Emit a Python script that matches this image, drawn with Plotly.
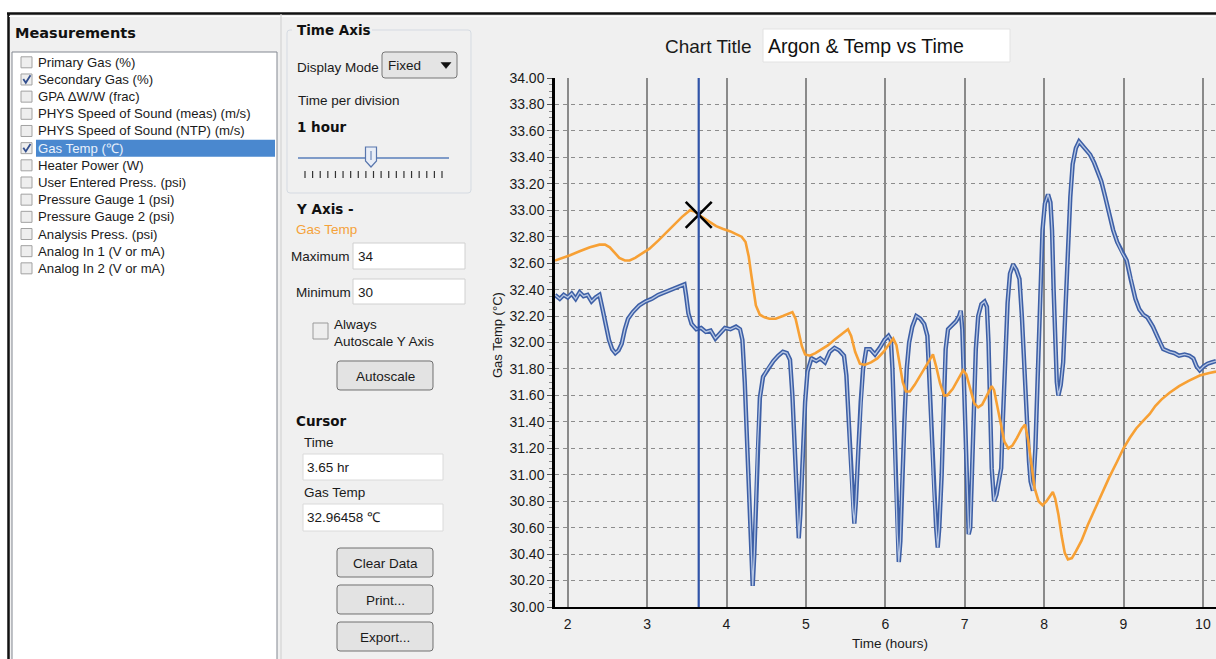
import plotly.graph_objects as go

# ---------------- data ----------------
time_gas = [1.84, 1.95, 2.03, 2.15, 2.28, 2.40, 2.47, 2.53, 2.59, 2.65, 2.72, 2.78, 2.85, 2.95,
            3.03, 3.14, 3.24, 3.34, 3.44, 3.54, 3.60, 3.65, 3.72, 3.79, 3.87, 3.95, 4.05, 4.12,
            4.19, 4.24, 4.28, 4.31, 4.34, 4.37, 4.42, 4.48, 4.54, 4.62, 4.71, 4.78, 4.83, 4.87,
            4.91, 4.95, 4.99, 5.05, 5.12, 5.20, 5.28, 5.36, 5.45, 5.53, 5.57, 5.62, 5.68, 5.74,
            5.82, 5.90, 5.98, 6.05, 6.10, 6.14, 6.18, 6.22, 6.26, 6.31, 6.37, 6.43, 6.50, 6.56,
            6.60, 6.64, 6.69, 6.74, 6.78, 6.85, 6.92, 6.98, 7.02, 7.07, 7.12, 7.17, 7.22, 7.28,
            7.34, 7.37, 7.41, 7.46, 7.50, 7.55, 7.60, 7.66, 7.72, 7.76, 7.80, 7.84, 7.88, 7.93,
            7.98, 8.03, 8.08, 8.11, 8.14, 8.18, 8.22, 8.26, 8.30, 8.35, 8.40, 8.47, 8.55, 8.63,
            8.72, 8.82, 8.92, 9.00, 9.08, 9.16, 9.25, 9.33, 9.40, 9.48, 9.58, 9.70, 9.82, 9.96,
            10.08, 10.165]
gas_temp = [32.62, 32.64, 32.66, 32.69, 32.72, 32.74, 32.74, 32.72, 32.68, 32.64, 32.62, 32.62, 32.64, 32.68,
            32.71, 32.77, 32.83, 32.89, 32.95, 33.00, 32.99, 32.965, 32.94, 32.91, 32.88, 32.86, 32.84, 32.82,
            32.80, 32.76, 32.65, 32.52, 32.38, 32.28, 32.21, 32.19, 32.18, 32.18, 32.20, 32.22, 32.23, 32.18,
            32.08, 31.97, 31.91, 31.90, 31.92, 31.95, 31.98, 32.02, 32.06, 32.10, 32.05, 31.93, 31.84, 31.83,
            31.85, 31.88, 31.93, 31.99, 32.03, 31.98, 31.85, 31.70, 31.63, 31.63, 31.68, 31.74, 31.81, 31.88,
            31.91, 31.82, 31.69, 31.60, 31.60, 31.65, 31.73, 31.79, 31.76, 31.65, 31.54, 31.51, 31.53, 31.60,
            31.67, 31.64, 31.52, 31.36, 31.25, 31.20, 31.22, 31.28, 31.35, 31.38, 31.26, 31.08, 30.90, 30.80,
            30.77, 30.80, 30.85, 30.87, 30.82, 30.70, 30.54, 30.41, 30.36, 30.37, 30.42, 30.50, 30.62, 30.73,
            30.85, 30.98, 31.10, 31.20, 31.28, 31.35, 31.41, 31.46, 31.52, 31.57, 31.62, 31.67, 31.71, 31.75,
            31.77, 31.78]

time_sec = [1.84, 1.90, 1.95, 2.00, 2.05, 2.10, 2.15, 2.20, 2.25, 2.30, 2.35, 2.40, 2.44, 2.48, 2.52,
            2.56, 2.60, 2.64, 2.68, 2.72, 2.76, 2.82, 2.90, 2.98, 3.06, 3.14, 3.22, 3.30, 3.38, 3.44,
            3.47, 3.49, 3.52, 3.56, 3.62, 3.68, 3.74, 3.80, 3.86, 3.92, 3.98, 4.05, 4.12, 4.17, 4.20,
            4.23, 4.26, 4.29, 4.31, 4.33, 4.35, 4.37, 4.39, 4.42, 4.46, 4.52, 4.59, 4.65, 4.71, 4.76,
            4.80, 4.83, 4.86, 4.89, 4.91, 4.93, 4.96, 4.99, 5.02, 5.07, 5.13, 5.18, 5.24, 5.30, 5.36,
            5.42, 5.48, 5.51, 5.54, 5.57, 5.59, 5.61, 5.63, 5.66, 5.69, 5.72, 5.76, 5.81, 5.87, 5.93,
            5.99, 6.04, 6.07, 6.09, 6.11, 6.13, 6.15, 6.17, 6.19, 6.21, 6.24, 6.27, 6.30, 6.34, 6.39,
            6.44, 6.49, 6.53, 6.55, 6.58, 6.61, 6.64, 6.66, 6.68, 6.71, 6.73, 6.76, 6.79, 6.84, 6.89,
            6.93, 6.95, 6.97, 6.99, 7.01, 7.03, 7.05, 7.07, 7.09, 7.11, 7.14, 7.17, 7.21, 7.25, 7.28,
            7.30, 7.32, 7.34, 7.37, 7.40, 7.43, 7.46, 7.48, 7.51, 7.54, 7.57, 7.61, 7.65, 7.69, 7.72,
            7.75, 7.78, 7.81, 7.83, 7.86, 7.89, 7.92, 7.95, 7.98, 8.01, 8.05, 8.08, 8.10, 8.12, 8.14,
            8.16, 8.18, 8.21, 8.24, 8.27, 8.30, 8.33, 8.36, 8.40, 8.44, 8.48, 8.53, 8.58, 8.63, 8.68,
            8.72, 8.77, 8.82, 8.87, 8.92, 8.98, 9.04, 9.09, 9.15, 9.20, 9.25, 9.30, 9.37, 9.43, 9.50,
            9.58, 9.64, 9.70, 9.77, 9.83, 9.88, 9.92, 9.96, 10.01, 10.06, 10.11, 10.165]
secondary_gas = [32.36, 32.33, 32.36, 32.34, 32.37, 32.33, 32.38, 32.35, 32.36, 32.31, 32.34, 32.36, 32.25, 32.12, 32.02,
                 31.95, 31.92, 31.94, 31.99, 32.10, 32.18, 32.23, 32.28, 32.31, 32.33, 32.36, 32.38, 32.40, 32.42, 32.43,
                 32.44, 32.36, 32.22, 32.14, 32.10, 32.11, 32.08, 32.09, 32.03, 32.07, 32.11, 32.10, 32.12, 32.10, 32.02,
                 31.70, 31.20, 30.70, 30.40, 30.16, 30.40, 30.80, 31.20, 31.58, 31.74, 31.80, 31.86, 31.90, 31.93, 31.92,
                 31.87, 31.60, 31.20, 30.80, 30.52, 30.70, 31.15, 31.55, 31.78, 31.88, 31.86, 31.88, 31.85, 31.93, 31.96,
                 31.94, 31.90, 31.75, 31.40, 31.00, 30.75, 30.63, 30.80, 31.20, 31.55, 31.80, 31.95, 31.95, 31.91, 31.96,
                 32.02, 32.05, 32.02, 31.80, 31.40, 30.95, 30.55, 30.34, 30.50, 30.90, 31.40, 31.80, 32.00, 32.12, 32.20,
                 32.18, 32.14, 32.05, 31.80, 31.30, 30.90, 30.60, 30.45, 30.60, 31.00, 31.50, 31.95, 32.10, 32.13, 32.16,
                 32.20, 32.24, 32.10, 31.70, 31.20, 30.80, 30.55, 30.60, 31.00, 31.50, 31.95, 32.20, 32.29, 32.31, 32.27,
                 32.00, 31.50, 31.05, 30.80, 30.85, 30.95, 31.05, 31.40, 31.90, 32.30, 32.52, 32.59, 32.55, 32.48, 32.20,
                 31.80, 31.40, 31.10, 30.95, 30.88, 31.20, 31.80, 32.40, 32.85, 33.05, 33.12, 33.06, 32.85, 32.40, 31.95,
                 31.70, 31.60, 31.68, 31.85, 32.30, 32.70, 33.10, 33.35, 33.47, 33.52, 33.49, 33.46, 33.42, 33.36, 33.29,
                 33.22, 33.10, 32.97, 32.85, 32.76, 32.68, 32.62, 32.48, 32.33, 32.25, 32.21, 32.19, 32.12, 32.04, 31.95,
                 31.93, 31.92, 31.90, 31.91, 31.90, 31.88, 31.82, 31.79, 31.82, 31.84, 31.85, 31.86]

cursor_time = 3.65
cursor_value = 32.96458
x_ticks = [2, 3, 4, 5, 6, 7, 8, 9, 10]
x_range = [1.84, 10.165]
y_range = [30, 34]

measurements = ["Primary Gas (%)", "Secondary Gas (%)", "GPA \u0394W/W (frac)",
                "PHYS Speed of Sound (meas) (m/s)", "PHYS Speed of Sound (NTP) (m/s)",
                "Gas Temp (\u2103)", "Heater Power (W)", "User Entered Press. (psi)",
                "Pressure Gauge 1 (psi)", "Pressure Gauge 2 (psi)", "Analysis Press. (psi)",
                "Analog In 1 (V or mA)", "Analog In 2 (V or mA)"]
checked = [False, True, False, False, False, True, False, False, False, False, False, False, False]
selected_index = 5

# ---------------- geometry helpers (pixel -> paper) ----------------
L, T, R, B = 555, 78, 1216, 607
PW, PH = R - L, B - T


def px(x):
    return (x - L) / PW


def py(y):
    return (B - y) / PH


shapes = []
annotations = []


def rect(x0, y0, x1, y1, fill, line="rgba(0,0,0,0)", lw=1):
    shapes.append(dict(type="rect", xref="paper", yref="paper",
                       x0=px(x0), x1=px(x1), y0=py(y1), y1=py(y0),
                       fillcolor=fill, line=dict(color=line, width=lw), layer="above"))


def line(x0, y0, x1, y1, color, lw=1, dash="solid"):
    shapes.append(dict(type="line", xref="paper", yref="paper",
                       x0=px(x0), x1=px(x1), y0=py(y0), y1=py(y1),
                       line=dict(color=color, width=lw, dash=dash), layer="above"))


def poly(points, fill="rgba(0,0,0,0)", color="#000", lw=1, close=True):
    d = "M " + " L ".join(f"{px(a):.5f},{py(b):.5f}" for a, b in points)
    if close:
        d += " Z"
    shapes.append(dict(type="path", xref="paper", yref="paper", path=d,
                       fillcolor=fill, line=dict(color=color, width=lw), layer="above"))


def rrect(x0, y0, x1, y1, r, fill, color, lw=1):
    d = (f"M {px(x0 + r):.5f},{py(y0):.5f} L {px(x1 - r):.5f},{py(y0):.5f} "
         f"Q {px(x1):.5f},{py(y0):.5f} {px(x1):.5f},{py(y0 + r):.5f} "
         f"L {px(x1):.5f},{py(y1 - r):.5f} "
         f"Q {px(x1):.5f},{py(y1):.5f} {px(x1 - r):.5f},{py(y1):.5f} "
         f"L {px(x0 + r):.5f},{py(y1):.5f} "
         f"Q {px(x0):.5f},{py(y1):.5f} {px(x0):.5f},{py(y1 - r):.5f} "
         f"L {px(x0):.5f},{py(y0 + r):.5f} "
         f"Q {px(x0):.5f},{py(y0):.5f} {px(x0 + r):.5f},{py(y0):.5f} Z")
    shapes.append(dict(type="path", xref="paper", yref="paper", path=d,
                       fillcolor=fill, line=dict(color=color, width=lw), layer="above"))


REG = "Liberation Sans"
BOLD = "DejaVu Sans"


def text(x, y, s, size=13.5, color="#1a1a1a", family=REG, anchor="left", bold=False, angle=0):
    if bold:
        s = "<b>" + s + "</b>"
    annotations.append(dict(xref="paper", yref="paper", x=px(x), y=py(y), text=s,
                            showarrow=False, xanchor=anchor, yanchor="middle",
                            font=dict(family=family, size=size, color=color),
                            textangle=angle, borderpad=0))


# ---------------- window frame ----------------
rect(0, 0, 1216, 13, "#ffffff")
rect(0, 0, 8, 659, "#ffffff")
line(7, 13.5, 1216, 13.5, "#111111", 2.5)
line(8.5, 13, 8.5, 659, "#111111", 2.5)
line(9, 16.5, 1216, 16.5, "#ffffff", 1)

# ---------------- left panel: measurements ----------------
text(14, 33, "Measurements", size=14.5, family=BOLD, bold=True, color="#111111")
rect(12, 52, 277, 662, "#ffffff", "#828790", 1)
line(281, 14, 281, 659, "#d4d4d4", 1.2)
y0_list, dy_list = 62.3, 17.17
for i, name in enumerate(measurements):
    yc = y0_list + i * dy_list
    if i == selected_index:
        rect(36, yc - 8.5, 275, yc + 8.5, "#4a88cf")
        col = "#e8f0fb"
    else:
        col = "#1a1a1a"
    rect(21, yc - 5.5, 32, yc + 5.5, "#eeeeee", "#a2a2a2", 1)
    if checked[i]:
        poly([(23.3, yc - 0.5), (25.8, yc + 3.3), (30.5, yc - 4.2)], color="#34508f", lw=1.8, close=False)
    text(37, yc, name, size=13.2, color=col)

# ---------------- middle panel ----------------
rrect(287, 30, 471, 193, 3, "rgba(0,0,0,0)", "#d5dbe2", 1)
rect(292, 22, 372, 38, "#f0f0f0")
text(296, 30, "Time Axis", size=13.5, family=BOLD, bold=True, color="#111111")
text(296, 67, "Display Mode", size=13.5)
rrect(382, 52, 457, 78, 3, "#e4e4e4", "#767676", 1)
text(387, 65, "Fixed", size=13.5)
poly([(441, 62.5), (451, 62.5), (446, 68.5)], fill="#111111", color="#111111", lw=0.5)
text(297, 101, "Time per division", size=13.5)
text(296, 127, "1 hour", size=13.5, family=BOLD, bold=True, color="#111111")
line(298, 158, 449, 158, "#7f9bc8", 2)
n_ticks = 19
for k in range(n_ticks):
    xt = 305 + k * (442 - 305) / (n_ticks - 1)
    line(xt, 171, xt, 178, "#333333", 1.2)
poly([(365.5, 147), (376.5, 147), (376.5, 161), (371, 167), (365.5, 161)], fill="#e9eef7", color="#5876ad", lw=1.2)
line(371, 151, 371, 160, "#5876ad", 1)

text(295, 209, "Y Axis -", size=13.5, family=BOLD, bold=True, color="#111111")
text(295, 230, "Gas Temp", size=13.5, color="#f5a23a")
text(290, 256, "Maximum", size=13.5)
rect(353, 243, 465, 269, "#ffffff", "#d0d0d0", 1)
text(357, 256, "34", size=13.5)
text(295, 292, "Minimum", size=13.5)
rect(353, 279, 465, 304, "#ffffff", "#d0d0d0", 1)
text(357, 292, "30", size=13.5)
rect(313, 323, 328, 339, "#eeeeee", "#9a9a9a", 1)
text(333, 324, "Always", size=13.5)
text(333, 341, "Autoscale Y Axis", size=13.5)
rrect(337, 361, 433, 390, 3, "#e3e3e3", "#707070", 1)
text(385, 376, "Autoscale", size=13.5, anchor="center")

text(295, 421, "Cursor", size=13.5, family=BOLD, bold=True, color="#111111")
text(303, 442, "Time", size=13.5)
rect(303, 454, 443, 480, "#ffffff", "#dadada", 1)
text(306, 467, "3.65 hr", size=13.5)
text(303, 493, "Gas Temp", size=13.5)
rect(303, 504, 443, 531, "#ffffff", "#dadada", 1)
text(306, 517, f"{cursor_value:.5f} \u2103", size=13.5)
for (yb0, label) in [(548, "Clear Data"), (585, "Print..."), (622, "Export...")]:
    rrect(337, yb0, 433, yb0 + 29, 3, "#e3e3e3", "#707070", 1)
    text(385, yb0 + 15, label, size=13.5, anchor="center")

# ---------------- chart header ----------------
text(664, 46, "Chart Title", size=19, color="#1a1a1a")
rect(763, 29, 1010, 62, "#ffffff", "#e2e2e2", 1)
text(767, 46, "Argon &amp; Temp vs Time", size=19.5, color="#111111")

# axis titles
text(890, 643, "Time (hours)", size=13.5, anchor="center")
text(497, 335, "Gas Temp (\u00b0C)", size=13, anchor="center", angle=-90)

# cursor line (data coords)
shapes.append(dict(type="line", xref="x", yref="y", x0=cursor_time, x1=cursor_time,
                   y0=y_range[0], y1=y_range[1], line=dict(color="#3054a8", width=2.2), layer="above"))

# ---------------- traces ----------------
fig = go.Figure()
fig.add_trace(go.Scatter(x=time_sec, y=secondary_gas, mode="lines",
                         line=dict(color="#3d5fa6", width=4.4), hoverinfo="skip", showlegend=False))
fig.add_trace(go.Scatter(x=time_sec, y=secondary_gas, mode="lines",
                         line=dict(color="#b7c7e4", width=1.3), hoverinfo="skip", showlegend=False))
fig.add_trace(go.Scatter(x=time_gas, y=gas_temp, mode="lines",
                         line=dict(color="#f7a034", width=2.6), hoverinfo="skip", showlegend=False))
fig.add_trace(go.Scatter(x=[cursor_time], y=[cursor_value], mode="markers",
                         marker=dict(symbol="x-thin", size=26, line=dict(color="#000000", width=2.6)),
                         hoverinfo="skip", showlegend=False))

fig.update_layout(
    width=1216, height=659, autosize=False,
    margin=dict(l=L, r=1216 - R, t=T, b=659 - B, pad=0),
    paper_bgcolor="#f0f0f0", plot_bgcolor="#f0f0f0",
    shapes=shapes, annotations=annotations,
    xaxis=dict(range=x_range, tickvals=x_ticks, showgrid=True, gridcolor="#8a8a8a", gridwidth=1.5,
               showline=True, linecolor="#000000", linewidth=2, ticks="", zeroline=False,
               tickfont=dict(family=REG, size=14, color="#1a1a1a"), ticklabelstandoff=3,
               fixedrange=True),
    yaxis=dict(range=y_range, dtick=0.2, tick0=30, tickformat=".2f", showgrid=True,
               gridcolor="#8c8c8c", gridwidth=1.3, griddash="4px,4px",
               showline=True, linecolor="#000000", linewidth=2.5, ticks="outside", ticklen=5,
               tickcolor="#555555", tickwidth=1, zeroline=False,
               minor=dict(dtick=0.05, ticks="outside", ticklen=3, tickcolor="#8a8a8a", showgrid=False),
               tickfont=dict(family=REG, size=14, color="#1a1a1a"), fixedrange=True),
)

fig.write_html("out.html", config={"displayModeBar": False},
               post_script="document.body.style.margin='0px';document.body.style.overflow='hidden';")
